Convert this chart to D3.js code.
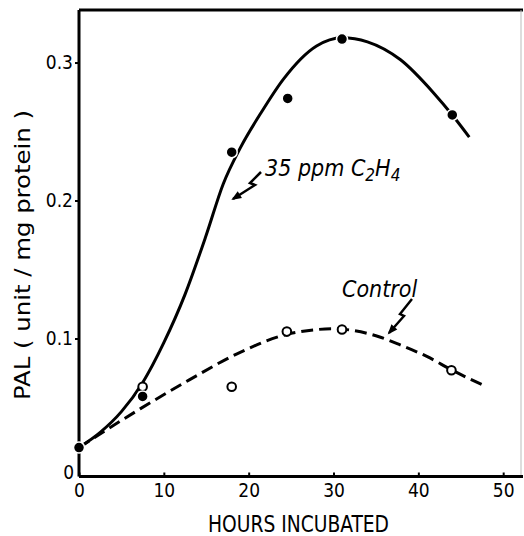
<!DOCTYPE html>
<html>
<head>
<meta charset="utf-8">
<script src="https://cdn.jsdelivr.net/npm/d3@7"></script>
<style>
  body { margin: 0; background: #fff; }
  svg { display: block; }
  text { font-family: "Liberation Sans Narrow", "DejaVu Sans Condensed", "Liberation Sans", sans-serif; fill: #000; }
</style>
</head>
<body>
<div class="chart"></div>
<script>
// measured points
var hoursEth = [0, 7.5, 18, 24.6, 31, 44];
var palEth = [0.021, 0.058, 0.235, 0.274, 0.317, 0.262];
var hoursCtl = [0, 7.5, 18, 24.5, 31, 43.9];
var palCtl = [0.021, 0.065, 0.065, 0.105, 0.1065, 0.077];

// hand drawn curves
var ethCurveHours = [0, 2.5, 5, 7.5, 10, 12.5, 15, 17, 19, 21.5, 24.1, 28, 31, 34, 37.9, 41.8, 44, 46];
var ethCurvePal = [0.021, 0.032, 0.047, 0.068, 0.097, 0.132, 0.175, 0.212, 0.238, 0.264, 0.288, 0.312, 0.318, 0.315, 0.302, 0.278, 0.262, 0.246];
var ctlCurveHours = [0, 7.2, 13, 19, 24.5, 30, 35, 38, 41, 44, 47.7];
var ctlCurvePal = [0.021, 0.049, 0.07, 0.09, 0.103, 0.107, 0.102, 0.095, 0.087, 0.077, 0.066];

var xTicks = [0, 10, 20, 30, 40, 50];
var yTicks = [0, 0.1, 0.2, 0.3];
var yTickLabels = ["0", "0.1", "0.2", "0.3"];

var width = 524, height = 536;

var x = d3.scaleLinear().domain([0, 52.1]).range([79, 521]);
var y = d3.scaleLinear().domain([0, 0.338]).range([476.5, 10.1]);

var svg = d3.select(".chart")
  .append("svg")
  .attr("width", width)
  .attr("height", height);

// frame: top and faint right side
svg.append("line")
  .attr("x1", x(0)).attr("x2", 523)
  .attr("y1", y(0.338)).attr("y2", y(0.338))
  .style("stroke", "#000").style("stroke-width", 3);
svg.append("line")
  .attr("x1", x(52.1)).attr("x2", x(52.1))
  .attr("y1", y(0.338)).attr("y2", y(0))
  .style("stroke", "#bbb").style("stroke-width", 1);

// axes
var xAxis = svg.append("g")
  .attr("transform", "translate(0," + y(0) + ")")
  .call(d3.axisBottom(x).tickValues(xTicks).tickSize(-4).tickSizeOuter(0).tickFormat(d3.format("d")));
xAxis.select(".domain").style("stroke-width", 3).attr("d", "M" + x(0) + ",0H523");
xAxis.selectAll(".tick line").style("stroke-width", 2);
xAxis.selectAll(".tick text")
  .attr("y", 20).attr("dy", 0)
  .style("font-size", "19px");

var yAxis = svg.append("g")
  .attr("transform", "translate(" + x(0) + ",0)")
  .call(d3.axisLeft(y).tickValues(yTicks).tickSize(4).tickSizeOuter(0).tickFormat((d, i) => yTickLabels[i]));
yAxis.select(".domain").style("stroke-width", 3).attr("d", "M0," + y(0) + "V" + y(0.338));
yAxis.selectAll(".tick line").style("stroke-width", 2);
yAxis.selectAll(".tick text")
  .attr("x", -6)
  .style("font-size", "19px");
yAxis.selectAll(".tick").filter(d => d === 0).select("text")
  .attr("x", -5).attr("dy", "0.1em");
yAxis.selectAll(".tick").filter(d => d === 0).select("line").remove();

// axis titles
svg.append("text")
  .attr("transform", "translate(30,255) rotate(-90)")
  .attr("text-anchor", "middle")
  .attr("textLength", 290)
  .attr("lengthAdjust", "spacingAndGlyphs")
  .style("font-size", "22px")
  .text("PAL ( unit / mg protein )");

svg.append("text")
  .attr("x", 208).attr("y", 531.5)
  .attr("textLength", 181)
  .attr("lengthAdjust", "spacingAndGlyphs")
  .style("font-size", "23px")
  .text("HOURS INCUBATED");

// curves
var line = d3.line()
  .x(d => x(d[0]))
  .y(d => y(d[1]))
  .curve(d3.curveMonotoneX);

svg.append("path")
  .datum(d3.zip(ethCurveHours, ethCurvePal))
  .attr("d", line)
  .style("fill", "none")
  .style("stroke", "#000")
  .style("stroke-width", 3);

svg.append("path")
  .datum(d3.zip(ctlCurveHours, ctlCurvePal))
  .attr("d", line)
  .style("fill", "none")
  .style("stroke", "#000")
  .style("stroke-width", 3)
  .style("stroke-dasharray", "12,6");

// markers
svg.append("g")
  .selectAll("circle")
  .data(d3.zip(hoursCtl, palCtl))
  .enter().append("circle")
  .attr("cx", d => x(d[0]))
  .attr("cy", d => y(d[1]))
  .attr("r", 4.3)
  .style("fill", "#fff")
  .style("stroke", "#000")
  .style("stroke-width", 2);

svg.append("g")
  .selectAll("circle")
  .data(d3.zip(hoursEth, palEth))
  .enter().append("circle")
  .attr("cx", d => x(d[0]))
  .attr("cy", d => y(d[1]))
  .attr("r", 5.5)
  .style("fill", "#000")
  .style("stroke", "#fff")
  .style("stroke-width", 1.5);

// labels with zigzag arrows
var ethLabel = svg.append("text")
  .attr("x", 265).attr("y", 176)
  .style("font-size", "23px")
  .style("font-style", "italic");
ethLabel.append("tspan").text("35 ppm  C");
ethLabel.append("tspan").attr("dy", 5).style("font-size", "17px").text("2");
ethLabel.append("tspan").attr("dy", -5).text("H");
ethLabel.append("tspan").attr("dy", 5).style("font-size", "17px").text("4");

svg.append("text")
  .attr("x", 342).attr("y", 297)
  .style("font-size", "23px")
  .style("font-style", "italic")
  .text("Control");

function zigzag(pts) {
  svg.append("path")
    .attr("d", d3.line()(pts))
    .style("fill", "none")
    .style("stroke", "#000")
    .style("stroke-width", 2.5);
  var a = pts[pts.length - 2], b = pts[pts.length - 1];
  var ang = Math.atan2(b[1] - a[1], b[0] - a[0]);
  var L = 9, w = 0.45;
  svg.append("path")
    .attr("d", d3.line()([
      [b[0] + 2 * Math.cos(ang), b[1] + 2 * Math.sin(ang)],
      [b[0] - L * Math.cos(ang - w), b[1] - L * Math.sin(ang - w)],
      [b[0] - L * Math.cos(ang + w), b[1] - L * Math.sin(ang + w)]
    ]) + "Z")
    .style("fill", "#000");
}
zigzag([[261, 172], [250, 183], [255, 185], [233, 199]]);
zigzag([[412, 299], [400, 314], [404, 316], [389, 333]]);
</script>
</body>
</html>
